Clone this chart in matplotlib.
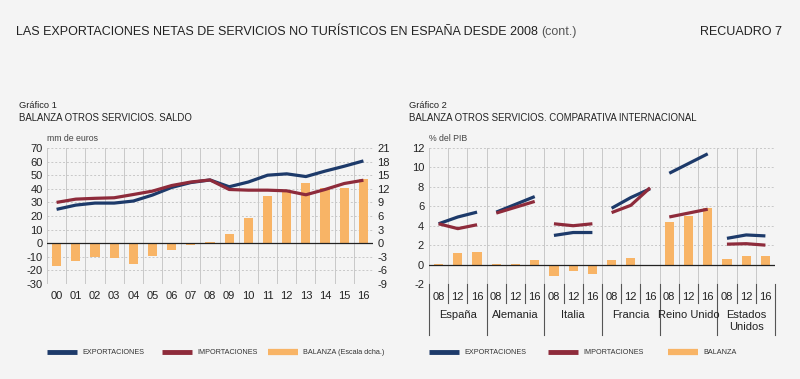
import numpy as np
import matplotlib
matplotlib.use("Agg")
import matplotlib.pyplot as plt
from matplotlib.lines import Line2D

plt.rcParams['font.family'] = ['Liberation Sans', 'DejaVu Sans']
plt.rcParams['axes.unicode_minus'] = False

# --- Data: chart 1 ---
years = ['00', '01', '02', '03', '04', '05', '06', '07', '08', '09',
         '10', '11', '12', '13', '14', '15', '16']
exports = [24.9, 28.0, 29.5, 29.5, 31.0, 35.4, 41.0, 44.6, 46.5, 41.5,
           45.0, 50.0, 51.0, 49.0, 53.0, 56.6, 60.5]
imports = [30.0, 32.4, 33.0, 33.4, 35.8, 38.3, 42.4, 45.0, 46.5, 39.5,
           39.0, 39.0, 38.5, 35.6, 39.5, 43.9, 46.3]
balance = [-5.1, -4.0, -3.1, -3.3, -4.5, -2.8, -1.6, -0.3, 0.2, 2.0,
           5.6, 10.5, 11.6, 13.2, 12.1, 12.2, 14.1]

# --- Data: chart 2 ---
countries = ['España', 'Alemania', 'Italia', 'Francia', 'Reino Unido', 'Estados\nUnidos']
years2 = ['08', '12', '16']
exports2 = [[4.2, 4.9, 5.4], [5.4, 6.2, 7.0], [3.0, 3.3, 3.3],
            [5.8, 6.9, 7.8], [9.4, 10.4, 11.4], [2.7, 3.05, 2.95]]
imports2 = [[4.2, 3.7, 4.1], [5.3, 5.9, 6.5], [4.2, 4.0, 4.2],
            [5.35, 6.1, 7.9], [4.9, 5.3, 5.7], [2.1, 2.15, 2.0]]
balance2 = [[0.05, 1.2, 1.25], [0.05, 0.05, 0.5], [-1.2, -0.7, -1.0],
            [0.45, 0.7, -0.05], [4.4, 5.0, 5.8], [0.6, 0.9, 0.85]]

# --- Style ---
BG = '#f4f4f4'
NAVY = '#1d3a6a'
RED = '#8e2b3b'
ORANGE = '#f8b466'
GRID = '#c8c8c8'
TXT = '#222222'

fig = plt.figure(figsize=(8, 3.79), dpi=100, facecolor=BG)
H = 379.0

def px_axes(l, t, r, b):
    return fig.add_axes([l / 800, 1 - b / H, (r - l) / 800, (b - t) / H])

# --- Title ---
t1 = fig.text(16 / 800, 1 - 32 / H,
              'LAS EXPORTACIONES NETAS DE SERVICIOS NO TURÍSTICOS EN ESPAÑA DESDE 2008',
              fontsize=9, color=TXT, va='center')
fig.canvas.draw()
bb = t1.get_window_extent()
fig.text(bb.x1 / 800 + 3 / 800, 1 - 32 / H, '(cont.)', fontsize=9, color='#555555', va='center')
fig.text(782 / 800, 1 - 32 / H, 'RECUADRO 7', fontsize=9, color=TXT, va='center', ha='right')

# --- Chart 1 ---
# bars + grid on the right-scale axes (drawn underneath), lines on the left-scale axes (on top)
ax1b = px_axes(47, 148, 373, 284)
ax1b.set_facecolor(BG)
ax1b.yaxis.tick_right()
x = np.arange(len(years))
ax1b.bar(x, balance, width=0.48, color=ORANGE, zorder=2)
ax1b.axhline(0, color='#222222', lw=0.9, zorder=3)
ax1b.set_ylim(-9, 21)
ax1b.set_yticks(np.arange(-9, 22, 3))
ax1b.set_xlim(-0.5, len(years) - 0.5)
ax1b.set_xticks(x)
ax1b.set_xticklabels(years)
ax1b.set_xticks(np.arange(-0.5, len(years), 1), minor=True)
ax1b.grid(True, which='minor', axis='x', color=GRID, lw=0.7)
ax1b.grid(True, which='major', axis='y', color=GRID, lw=0.7, ls=(0, (2, 2)))
ax1b.set_axisbelow(True)

ax1 = px_axes(47, 148, 373, 284)
ax1.patch.set_visible(False)
ax1.plot(x, exports, color=NAVY, lw=2.3, solid_capstyle='butt', zorder=4)
ax1.plot(x, imports, color=RED, lw=2.3, solid_capstyle='butt', zorder=4)
ax1.set_ylim(-30, 70)
ax1.set_yticks(np.arange(-30, 71, 10))
ax1.set_xlim(-0.5, len(years) - 0.5)
ax1.set_xticks([])
for a in (ax1, ax1b):
    for s in a.spines.values():
        s.set_visible(False)
    a.tick_params(length=0, labelsize=8, colors=TXT, pad=3)
ax1b.tick_params(axis='x', which='both', length=0, pad=5)
fig.text(19 / 800, 1 - 106 / H, 'Gráfico 1', fontsize=6.7, color=TXT, va='center')
fig.text(19 / 800, 1 - 118 / H, 'BALANZA OTROS SERVICIOS. SALDO', fontsize=6.9, color=TXT, va='center')
fig.text(47 / 800, 1 - 139 / H, 'mm de euros', fontsize=6.3, color='#444444', va='center')

# --- Chart 2 ---
ax2 = px_axes(429, 148, 775, 284)
ax2.set_facecolor(BG)
n = len(countries) * len(years2)
x2 = np.arange(n)
bal_flat = [v for grp in balance2 for v in grp]
ax2.bar(x2, bal_flat, width=0.48, color=ORANGE, zorder=2)
for g in range(len(countries)):
    xs = x2[g * 3:(g + 1) * 3]
    ax2.plot(xs, exports2[g], color=NAVY, lw=2.3, solid_capstyle='butt', zorder=4)
    ax2.plot(xs, imports2[g], color=RED, lw=2.3, solid_capstyle='butt', zorder=4)
ax2.axhline(0, color='#222222', lw=0.9, zorder=3)
ax2.set_ylim(-2, 12)
ax2.set_yticks(np.arange(-2, 13, 2))
ax2.set_xlim(-0.5, n - 0.5)
ax2.set_xticks(x2)
ax2.set_xticklabels(years2 * len(countries))
ax2.set_xticks(np.arange(-0.5, n, 1), minor=True)
ax2.grid(True, which='minor', axis='x', color=GRID, lw=0.7)
ax2.grid(True, which='major', axis='y', color=GRID, lw=0.7, ls=(0, (2, 2)))
ax2.set_axisbelow(True)
for s in ax2.spines.values():
    s.set_visible(False)
ax2.tick_params(length=0, labelsize=8, colors=TXT)
ax2.tick_params(axis='x', which='both', length=0, pad=6)
trans = ax2.get_xaxis_transform()
for b in np.arange(-0.5, n, 1):
    is_group = (b + 0.5) % 3 == 0
    ax2.plot([b, b], [0, -51 / 136 if is_group else -19 / 136], color='#555555', lw=0.8,
             transform=trans, clip_on=False)
for g, name in enumerate(countries):
    ax2.text(g * 3 + 1, -26 / 136, name, transform=trans, ha='center', va='top',
             fontsize=8, color=TXT, linespacing=1.3)
fig.text(409 / 800, 1 - 106 / H, 'Gráfico 2', fontsize=6.7, color=TXT, va='center')
fig.text(409 / 800, 1 - 118 / H, 'BALANZA OTROS SERVICIOS. COMPARATIVA INTERNACIONAL',
         fontsize=6.9, color=TXT, va='center')
fig.text(429 / 800, 1 - 139 / H, '% del PIB', fontsize=6.3, color='#444444', va='center')

# --- Legends ---
def legend(items):
    for label, color, xl in items:
        fig.add_artist(Line2D([xl / 800, (xl + 30) / 800], [1 - 352 / H] * 2, color=color,
                              lw=3.5 if color != ORANGE else 4.5, solid_capstyle='butt'))
        fig.text((xl + 35) / 800, 1 - 352 / H, label, fontsize=5.2, color='#333333', va='center')

legend([('EXPORTACIONES', NAVY, 47), ('IMPORTACIONES', RED, 162),
        ('BALANZA (Escala dcha.)', ORANGE, 268)])
legend([('EXPORTACIONES', NAVY, 429), ('IMPORTACIONES', RED, 548),
        ('BALANZA', ORANGE, 668)])

fig.savefig('out.png', dpi=100, facecolor=BG)
